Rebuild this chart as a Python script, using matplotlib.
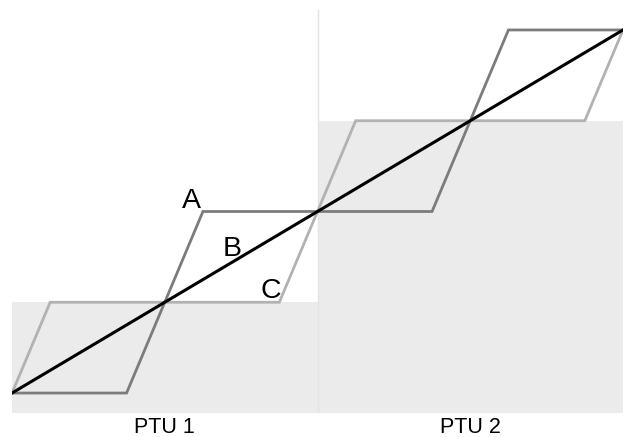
import matplotlib
matplotlib.use('Agg')
import matplotlib.pyplot as plt

# PTU-Bereiche und Hoehe der grauen Flaeche je PTU
ptu_labels = ['PTU 1', 'PTU 2']
ptu_centers = [0.5, 1.5]
ptu_edges = [[0, 1], [1, 2]]
ptu_fill = [1, 3]

# Pfad A (dunkelgrau), Pfad B (schwarz), Pfad C (hellgrau)
a_x = [0, 0.375, 0.5, 0.625, 1.0, 1.375, 1.5, 1.625, 2.0]
a_y = [0, 0, 1, 2, 2, 2, 3, 4, 4]
b_x = [0, 2.0]
b_y = [0, 4]
c_x = [0, 0.125, 0.5, 0.875, 1.0, 1.125, 1.5, 1.875, 2.0]
c_y = [0, 1, 1, 1, 2, 3, 3, 3, 4]

# Beschriftungen der Pfade
letters = ['A', 'B', 'C']
letter_x = [0.588, 0.719, 0.846]
letter_y = [2.04, 1.51, 1.047]

y_lo, y_hi = -0.22, 4.22

fig = plt.figure(figsize=(6.24, 4.37), dpi=100)
ax = fig.add_axes([12 / 624, 24 / 437, 611 / 624, 403 / 437])
ax.set_xlim(0, 2)
ax.set_ylim(y_lo, y_hi)
ax.axis('off')

# graue Flaechen
for edges, level in zip(ptu_edges, ptu_fill):
    ax.fill_between(edges, y_lo, level, color='#ebebeb', lw=0, zorder=0)

# Trennlinie zwischen den PTUs
ax.axvline(1, color='#e4e4e4', lw=1, zorder=1)

ax.plot(c_x, c_y, color='#b2b2b2', lw=2, zorder=2, solid_joinstyle='miter')
ax.plot(a_x, a_y, color='#7c7c7c', lw=2, zorder=3, solid_joinstyle='miter')
ax.plot(b_x, b_y, color='black', lw=2.2, zorder=4)

for s, x, y in zip(letters, letter_x, letter_y):
    ax.text(x, y, s, fontsize=20.5, family='Liberation Sans',
            ha='center', va='baseline', zorder=5)

for s, x in zip(ptu_labels, ptu_centers):
    ax.text(x, -0.049, s, transform=ax.get_xaxis_transform(),
            fontsize=15.5, family='Liberation Sans', ha='center', va='baseline')

fig.savefig('out.png', dpi=100)
